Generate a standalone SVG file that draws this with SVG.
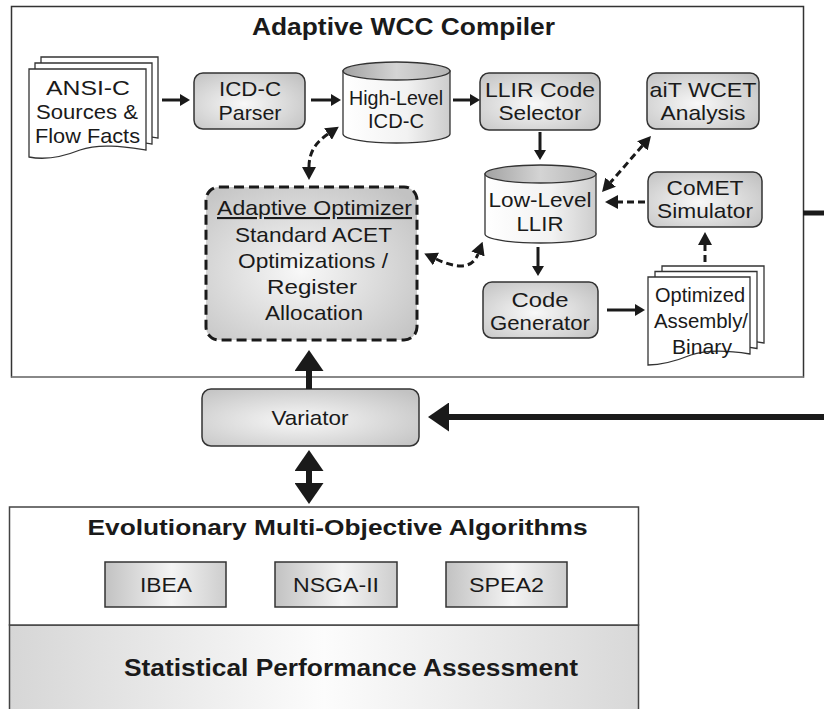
<svg xmlns="http://www.w3.org/2000/svg" width="824" height="709" viewBox="0 0 824 709">
<defs>
<style>
text{font-family:"Liberation Sans",Arial,sans-serif;fill:#1a1a1a;text-anchor:middle;}
.t{font-size:21px;}
.s{font-size:20px;}
.b{font-weight:bold;}
.frame{fill:#fff;stroke:#333;stroke-width:1.5;}
.box{fill:url(#boxGrad);stroke:#333;stroke-width:1.5;}
.doc{fill:#fff;stroke:#333;stroke-width:1.3;}
.cylb{fill:url(#cylBody);stroke:#333;stroke-width:1.3;}
.cylt{fill:url(#cylTop);stroke:#333;stroke-width:1.3;}
.algo{fill:url(#algoGrad);stroke:#333;stroke-width:1.5;}
.solid{fill:none;stroke:#1a1a1a;stroke-width:3;marker-end:url(#ah);}
.dash{fill:none;stroke:#1a1a1a;stroke-width:3;stroke-dasharray:7 4;}
.thick{fill:none;stroke:#1a1a1a;stroke-width:6;}
</style>
<radialGradient id="boxGrad" cx="0.45" cy="0.55" r="0.7">
<stop offset="0" stop-color="#f8f8f8"/><stop offset="1" stop-color="#c2c2c2"/>
</radialGradient>
<linearGradient id="cylBody" x1="0" y1="0" x2="1" y2="0">
<stop offset="0" stop-color="#ffffff"/><stop offset="0.6" stop-color="#f2f2f2"/><stop offset="1" stop-color="#cdcdcd"/>
</linearGradient>
<linearGradient id="cylTop" x1="0" y1="0" x2="1" y2="0">
<stop offset="0" stop-color="#a2a2a2"/><stop offset="0.5" stop-color="#d4d4d4"/><stop offset="1" stop-color="#b4b4b4"/>
</linearGradient>
<linearGradient id="algoGrad" x1="0" y1="0" x2="1" y2="0">
<stop offset="0" stop-color="#c2c2c2"/><stop offset="0.55" stop-color="#f4f4f4"/><stop offset="1" stop-color="#cdcdcd"/>
</linearGradient>
<linearGradient id="spaGrad" x1="0" y1="0" x2="1" y2="0">
<stop offset="0" stop-color="#d6d6d6"/><stop offset="0.5" stop-color="#fcfcfc"/><stop offset="1" stop-color="#d8d8d8"/>
</linearGradient>
<marker id="ah" markerUnits="userSpaceOnUse" markerWidth="10" markerHeight="12" refX="0" refY="6" orient="auto">
<path d="M0,0 L10,6 L0,12 Z" fill="#1a1a1a"/>
</marker>
<marker id="dh" markerUnits="userSpaceOnUse" markerWidth="13" markerHeight="14" refX="0" refY="7" orient="auto-start-reverse">
<path d="M0,0 L13,7 L0,14 Z" fill="#1a1a1a"/>
</marker>
<marker id="th" markerUnits="userSpaceOnUse" markerWidth="21" markerHeight="29" refX="0" refY="14.5" orient="auto-start-reverse">
<path d="M0,0 L21,14.5 L0,29 Z" fill="#1a1a1a"/>
</marker>
</defs>

<g id="compiler">
<rect class="frame" x="11.5" y="6.5" width="792" height="370.5"/>
<line x1="11.5" y1="377" x2="803.5" y2="377" stroke="#888" stroke-width="2"/>
<text class="b" x="403.5" y="35" font-size="24" textLength="303" lengthAdjust="spacingAndGlyphs">Adaptive WCC Compiler</text>
</g>

<g id="emo">
<rect x="9.5" y="625" width="629" height="90" fill="url(#spaGrad)" stroke="#444" stroke-width="1.5"/>
<rect x="9.5" y="507" width="629" height="118" fill="#fff" stroke="#444" stroke-width="1.5"/>
<text class="b" x="337.5" y="535" font-size="22" textLength="500" lengthAdjust="spacingAndGlyphs">Evolutionary Multi-Objective Algorithms</text>
</g>
<g id="spa">
<text class="b" x="351" y="676" font-size="23" textLength="454" lengthAdjust="spacingAndGlyphs">Statistical Performance Assessment</text>
</g>

<g id="ansi-sources">
<path class="doc" d="M41,57 H158 V138 C137,135 112,131 92,138 C72,146 56,148 41,145 Z"/>
<path class="doc" d="M35,63 H152 V144 C131,141 106,137 86,144 C66,152 50,154 35,151 Z"/>
<path class="doc" d="M29,69 H146 V150 C125,147 100,143 80,150 C60,158 44,160 29,157 Z"/>
<text class="t" x="88" y="95" textLength="84" lengthAdjust="spacingAndGlyphs">ANSI-C</text>
<text class="t" x="87" y="119" textLength="102" lengthAdjust="spacingAndGlyphs">Sources &amp;</text>
<text class="t" x="87.5" y="143" textLength="105" lengthAdjust="spacingAndGlyphs">Flow Facts</text>
</g>

<g id="icdc-parser">
<rect class="box" x="194" y="73" width="111" height="56" rx="9"/>
<text class="t" x="250" y="96" textLength="62" lengthAdjust="spacingAndGlyphs">ICD-C</text>
<text class="t" x="250" y="120" textLength="63" lengthAdjust="spacingAndGlyphs">Parser</text>
</g>

<g id="high-level-icdc">
<path class="cylb" d="M343,71 V134 A53.5,9 0 0 0 450,134 V71 Z"/>
<ellipse class="cylt" cx="396.5" cy="71" rx="53.5" ry="9"/>
<text class="s" x="396" y="105" textLength="94" lengthAdjust="spacingAndGlyphs">High-Level</text>
<text class="s" x="396" y="128" textLength="56" lengthAdjust="spacingAndGlyphs">ICD-C</text>
</g>

<g id="llir-code-selector">
<rect class="box" x="480" y="73" width="120" height="57" rx="9"/>
<text class="t" x="540" y="97" textLength="110" lengthAdjust="spacingAndGlyphs">LLIR Code</text>
<text class="t" x="540" y="120" textLength="83" lengthAdjust="spacingAndGlyphs">Selector</text>
</g>

<g id="ait-wcet">
<rect class="box" x="647" y="73" width="112" height="56" rx="9"/>
<text class="t" x="703" y="97" textLength="107" lengthAdjust="spacingAndGlyphs">aiT WCET</text>
<text class="t" x="703" y="120" textLength="85" lengthAdjust="spacingAndGlyphs">Analysis</text>
</g>

<g id="low-level-llir">
<path class="cylb" d="M485,174 V234 A55.5,9 0 0 0 596,234 V174 Z"/>
<ellipse class="cylt" cx="540.5" cy="174" rx="55.5" ry="9"/>
<text class="t" x="540" y="207" textLength="103" lengthAdjust="spacingAndGlyphs">Low-Level</text>
<text class="t" x="540" y="231" textLength="47" lengthAdjust="spacingAndGlyphs">LLIR</text>
</g>

<g id="comet-simulator">
<rect class="box" x="648" y="172" width="114" height="55" rx="9"/>
<text class="t" x="705" y="195" textLength="77" lengthAdjust="spacingAndGlyphs">CoMET</text>
<text class="t" x="705" y="218" textLength="96" lengthAdjust="spacingAndGlyphs">Simulator</text>
</g>

<g id="code-generator">
<rect class="box" x="483" y="282" width="115" height="56" rx="9"/>
<text class="t" x="540" y="307" textLength="57" lengthAdjust="spacingAndGlyphs">Code</text>
<text class="t" x="540" y="330" textLength="100" lengthAdjust="spacingAndGlyphs">Generator</text>
</g>

<g id="optimized-binary">
<path class="doc" d="M662,266 H764 V343 C745,340 722,338 705,344 C690,350 676,354 662,354 Z"/>
<path class="doc" d="M655,271.5 H757 V348.5 C738,345.5 715,343.5 698,349.5 C683,355.5 669,359.5 655,359.5 Z"/>
<path class="doc" d="M648,277 H750 V354 C731,351 708,349 691,355 C676,361 662,365 648,365 Z"/>
<text class="t" x="700" y="302" textLength="90" lengthAdjust="spacingAndGlyphs">Optimized</text>
<text class="t" x="701" y="328" textLength="94" lengthAdjust="spacingAndGlyphs">Assembly/</text>
<text class="t" x="702" y="354" textLength="60" lengthAdjust="spacingAndGlyphs">Binary</text>
</g>

<g id="adaptive-optimizer">
<rect x="206" y="187" width="211" height="153" rx="13" fill="url(#boxGrad)" stroke="#1a1a1a" stroke-width="3" stroke-dasharray="10 5"/>
<text class="t" x="314.5" y="215" textLength="195" lengthAdjust="spacingAndGlyphs" text-decoration="underline">Adaptive Optimizer</text>
<text class="t" x="313.5" y="242" textLength="157" lengthAdjust="spacingAndGlyphs">Standard ACET</text>
<text class="t" x="313" y="268" textLength="150" lengthAdjust="spacingAndGlyphs">Optimizations /</text>
<text class="t" x="312" y="294" textLength="90" lengthAdjust="spacingAndGlyphs">Register</text>
<text class="t" x="314" y="320" textLength="98" lengthAdjust="spacingAndGlyphs">Allocation</text>
</g>

<g id="variator">
<rect class="box" x="202" y="389" width="217" height="57" rx="9"/>
<text class="t" x="310" y="425" textLength="77" lengthAdjust="spacingAndGlyphs">Variator</text>
</g>

<g id="ibea">
<rect class="algo" x="105" y="562" width="121" height="45"/>
<text class="s" x="166" y="592" textLength="52" lengthAdjust="spacingAndGlyphs">IBEA</text>
</g>
<g id="nsga-ii">
<rect class="algo" x="275" y="562" width="122" height="45"/>
<text class="s" x="336" y="592" textLength="86" lengthAdjust="spacingAndGlyphs">NSGA-II</text>
</g>
<g id="spea2">
<rect class="algo" x="446" y="562" width="121" height="45"/>
<text class="s" x="506.5" y="592" textLength="75" lengthAdjust="spacingAndGlyphs">SPEA2</text>
</g>

<g id="connectors">
<path class="solid" d="M162,100 H180"/>
<path class="solid" d="M311,100 H331"/>
<path class="solid" d="M453,100 H470"/>
<path class="solid" d="M540,132 V150"/>
<path class="solid" d="M538,247 V266"/>
<path class="solid" d="M607,310 H635"/>
<path class="dash" d="M328,134 C316,142 309,152 309,167" marker-start="url(#dh)" marker-end="url(#dh)"/>
<path class="dash" d="M642.4,145.8 L610.6,182.2" marker-start="url(#dh)" marker-end="url(#dh)"/>
<path class="dash" d="M645,202 H618" marker-end="url(#dh)"/>
<path class="dash" d="M705,262 V245" marker-end="url(#dh)"/>
<path class="dash" d="M436,259 C455,268 472,270 478,254" marker-start="url(#dh)" marker-end="url(#dh)"/>
<path class="thick" d="M309,389 V371" marker-end="url(#th)"/>
<path class="thick" d="M824,417 H449" marker-end="url(#th)"/>
<path class="thick" d="M309,471 V483" marker-start="url(#th)" marker-end="url(#th)"/>
<path d="M803,213 H824" stroke="#1a1a1a" stroke-width="5"/>
</g>
</svg>
